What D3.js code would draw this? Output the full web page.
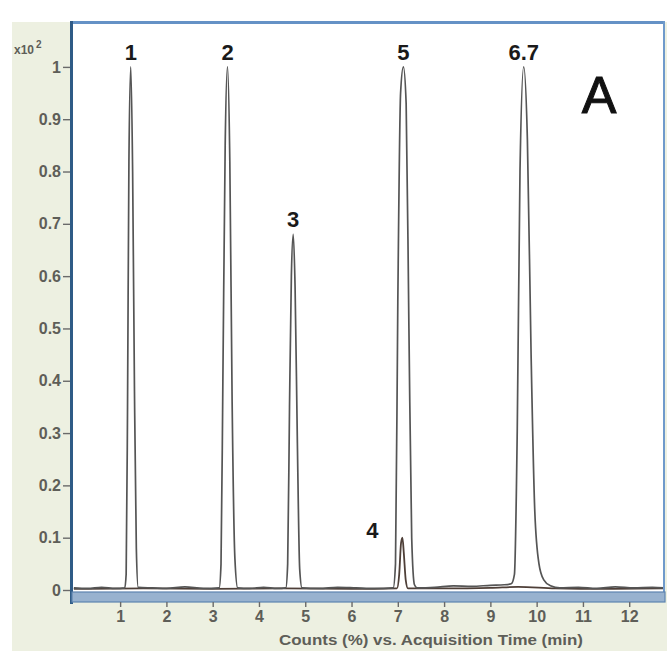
<!DOCTYPE html>
<html>
<head>
<meta charset="utf-8">
<script src="https://cdn.jsdelivr.net/npm/d3@7"></script>
<style>
    body { margin: 0; background: #ffffff; }
    svg { display: block; font-family: 'Liberation Sans', Arial, sans-serif; }
</style>
</head>
<body>
<svg id="chart" width="667" height="651"></svg>
<script>

var y_ticks = [0, 0.1, 0.2, 0.3, 0.4, 0.5, 0.6, 0.7, 0.8, 0.9, 1];

var x_ticks = [1, 2, 3, 4, 5, 6, 7, 8, 9, 10, 11, 12];

// main trace (time in min, response x10^2)
var trace_main = [
    [0.0, 0.004], [0.3, 0.003], [0.6, 0.005], [0.9, 0.003],
    [1.10, 0.004], [1.13, 0.03], [1.16, 0.35], [1.19, 0.82], [1.23, 1.0], [1.27, 0.8], [1.31, 0.38], [1.35, 0.08], [1.39, 0.005],
    [1.7, 0.004], [2.0, 0.003], [2.4, 0.006], [2.8, 0.003],
    [3.14, 0.004], [3.18, 0.05], [3.22, 0.4], [3.27, 0.85], [3.32, 1.0], [3.37, 0.82], [3.42, 0.36], [3.48, 0.06], [3.54, 0.004],
    [3.8, 0.003], [4.1, 0.005], [4.4, 0.003],
    [4.58, 0.004], [4.62, 0.05], [4.66, 0.35], [4.70, 0.6], [4.74, 0.68], [4.78, 0.58], [4.83, 0.28], [4.88, 0.04], [4.93, 0.004],
    [5.3, 0.003], [5.7, 0.005], [6.1, 0.004], [6.5, 0.003],
    [6.90, 0.004], [6.95, 0.05], [7.00, 0.55], [7.06, 0.95], [7.12, 1.0], [7.18, 0.93], [7.24, 0.5], [7.30, 0.1], [7.36, 0.01], [7.42, 0.004],
    [7.8, 0.005], [8.2, 0.008], [8.6, 0.007], [9.0, 0.009], [9.3, 0.01],
    [9.45, 0.012], [9.52, 0.03], [9.58, 0.3], [9.64, 0.8], [9.72, 1.0], [9.80, 0.86], [9.88, 0.45], [9.96, 0.15], [10.05, 0.05], [10.15, 0.02], [10.3, 0.008], [10.5, 0.004],
    [10.9, 0.005], [11.3, 0.003], [11.7, 0.006], [12.1, 0.004], [12.5, 0.005], [12.75, 0.004]
];

// second trace (small peak 4)
var trace_small = [
    [0.0, 0.002], [1.5, 0.003], [3.0, 0.002], [4.5, 0.003], [6.0, 0.002],
    [6.98, 0.003], [7.03, 0.03], [7.07, 0.09], [7.10, 0.1], [7.13, 0.07], [7.17, 0.02], [7.22, 0.003],
    [8.0, 0.003], [9.0, 0.004], [9.6, 0.006], [10.4, 0.003], [11.5, 0.002], [12.75, 0.003]
];

var peak_labels = [
    { 'label': '1', 't': 1.23, 'v': 1.0 },
    { 'label': '2', 't': 3.32, 'v': 1.0 },
    { 'label': '3', 't': 4.74, 'v': 0.68 },
    { 'label': '4', 't': 6.45, 'v': 0.1 },
    { 'label': '5', 't': 7.12, 'v': 1.0 },
    { 'label': '6.7', 't': 9.72, 'v': 1.0 }
];

var svg = d3.select('#chart');

var plot = { left: 72, right: 663, top: 24, bottom: 592 };

var x = d3.scaleLinear()
    .domain([-0.04, 12.73])
    .range([plot.left, plot.right]);

var y = d3.scaleLinear()
    .domain([0, 1.082])
    .range([590, 24]);


// cream panel behind the axes
svg.append('rect')
    .attr('x', 12).attr('y', 22)
    .attr('width', 655).attr('height', 629)
    .attr('fill', '#edf0e1');

svg.append('rect')
    .attr('x', plot.left).attr('y', plot.top)
    .attr('width', plot.right - plot.left).attr('height', plot.bottom - plot.top)
    .attr('fill', '#ffffff');


var line = d3.line()
    .x(function(d) { return x(d[0]); })
    .y(function(d) { return y(d[1]); })
    .curve(d3.curveMonotoneX);

svg.append('path')
    .datum(trace_small)
    .attr('d', line)
    .attr('fill', 'none')
    .attr('stroke', '#4e3f38')
    .attr('stroke-width', 1.8);

svg.append('path')
    .datum(trace_main)
    .attr('d', line)
    .attr('fill', 'none')
    .attr('stroke', '#555555')
    .attr('stroke-width', 1.7);


// frame
svg.append('rect')
    .attr('x', plot.left - 1).attr('y', 21)
    .attr('width', plot.right - plot.left + 3).attr('height', 3)
    .attr('fill', '#6592c6');

svg.append('rect')
    .attr('x', plot.right).attr('y', 21)
    .attr('width', 2).attr('height', plot.bottom - 21)
    .attr('fill', '#6f9acb');

svg.append('rect')
    .attr('x', plot.left - 2).attr('y', 21)
    .attr('width', 3).attr('height', 583)
    .attr('fill', '#2f5b86');

svg.append('rect')
    .attr('x', plot.left).attr('y', plot.bottom)
    .attr('width', plot.right - plot.left + 2).attr('height', 10)
    .attr('fill', '#98b2cf')
    .attr('stroke', '#5d84b0')
    .attr('stroke-width', 1.2);


// axes
var y_axis = d3.axisLeft(y)
    .tickValues(y_ticks)
    .tickSize(7)
    .tickPadding(2)
    .tickFormat(function(d) { return d3.format('~g')(d); });

var gy = svg.append('g')
    .attr('transform', 'translate(' + (plot.left - 2) + ',0)')
    .call(y_axis);

var x_axis = d3.axisBottom(x)
    .tickValues(x_ticks)
    .tickSize(5)
    .tickPadding(4);

var gx = svg.append('g')
    .attr('transform', 'translate(0,' + (plot.bottom + 10) + ')')
    .call(x_axis);

[gy, gx].forEach(function(g) {
    g.select('.domain').remove();
    g.selectAll('line').attr('stroke', '#6a6a6a').attr('stroke-width', 1.4);
    g.selectAll('text')
        .attr('fill', '#5e5e58')
        .style('font-size', '16px')
        .style('font-weight', 'bold')
        .style('font-family', "'Liberation Sans', Arial, sans-serif");
});

svg.append('text')
    .attr('x', 431).attr('y', 645)
    .attr('text-anchor', 'middle')
    .attr('fill', '#5e5e58')
    .style('font-size', '14px')
    .style('font-weight', 'bold')
    .attr('textLength', 304)
    .attr('lengthAdjust', 'spacingAndGlyphs')
    .text('Counts (%) vs. Acquisition Time (min)');

svg.append('text')
    .attr('x', 14).attr('y', 54)
    .attr('fill', '#5e5e58')
    .style('font-size', '12px')
    .style('font-weight', 'bold')
    .html('x10<tspan dx="2" dy="-6" style="font-size:10px">2</tspan>');


// peak labels
svg.selectAll('.peak')
    .data(peak_labels)
    .enter()
    .append('text')
    .attr('class', 'peak')
    .attr('x', function(d) { return x(d.t); })
    .attr('y', function(d) { return y(d.v) - (d.label == '4' ? 0 : 7); })
    .attr('text-anchor', 'middle')
    .attr('fill', '#1a1a1a')
    .style('font-size', '22px')
    .style('font-weight', 'bold')
    .text(function(d) { return d.label; });

svg.append('text')
    .attr('x', 599).attr('y', 113)
    .attr('text-anchor', 'middle')
    .attr('fill', '#111')
    .attr('stroke', '#111')
    .attr('stroke-width', 1)
    .style('font-size', '52px')
    .text('A');

</script>
</body>
</html>
